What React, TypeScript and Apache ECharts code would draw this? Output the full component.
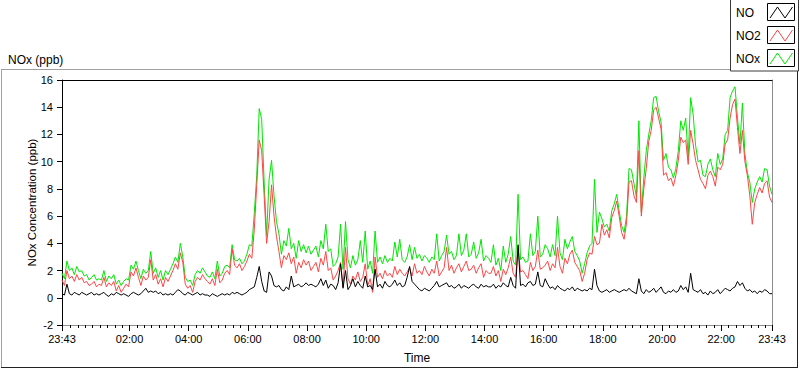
import React, { useEffect, useRef } from "react";
import * as echarts from "echarts";

// Time axis: minutes from midnight; the record starts at 23:43 of the previous day
const START_MIN = -17;
const END_MIN = 1423;
const STEP_MIN = 5;

// NO2 (ppb), one value every 5 minutes from 23:43
const NO2 = [
  1.3, 0.9, 2.0, 1.4, 1.6, 1.2, 1.7, 1.3, 1.5, 1.1,
  1.2, 0.9, 1.0, 1.2, 0.8, 1.0, 0.9, 1.5, 0.8, 1.1,
  0.9, 1.2, 0.5, 0.9, 0.4, 0.7, 1.0, 0.8, 1.9, 1.6,
  2.2, 1.5, 0.9, 1.6, 1.3, 1.5, 2.8, 1.3, 1.7, 1.0,
  1.4, 0.8, 1.5, 1.2, 1.6, 2.0, 2.5, 2.1, 3.3, 2.6,
  1.0, 0.7, 0.9, 0.4, 1.2, 1.5, 1.3, 1.7, 1.4,
  1.2, 1.0, 1.4, 0.9, 2.1, 1.1, 1.3, 1.8, 2.0, 1.7, 3.6,
  2.4, 2.2, 2.5, 2.0, 2.3, 2.7, 3.2, 2.9, 5.0, 8.3,
  11.6, 10.8, 7.5, 4.0, 5.6, 8.3, 6.0, 4.5, 3.4, 2.2,
  3.1, 2.8, 3.3, 2.5, 3.0, 1.8, 2.6, 2.2, 2.8, 2.4,
  2.7, 2.0, 2.3, 2.6, 1.9, 2.9, 2.4, 3.4, 2.0, 2.2,
  1.3, 1.6, 2.0, 2.6, 0.8, 3.7, 1.4,
  1.0, 1.6, 1.3, 1.9, 1.2, 1.5, 2.5, 0.9, 1.4, 0.4,
  3.0, 1.5, 1.8, 1.4, 2.0, 1.6, 1.8, 1.5, 2.3, 1.7,
  2.1, 1.8, 1.6, 1.9, 2.2, 1.6, 2.5, 1.8, 2.0, 1.7,
  2.3, 1.9, 1.6, 2.1, 1.8, 2.7, 1.6, 1.9, 2.2, 3.7,
  2.0, 2.4, 1.8, 2.2, 2.5, 1.9, 2.3, 2.7, 2.0, 2.1,
  2.4, 1.8, 2.2, 2.5, 1.5, 2.0, 1.8,
  1.8, 2.3, 1.6, 2.0, 1.2, 2.1, 1.7, 2.2, 3.0, 1.8,
  1.5, 3.7, 1.9, 2.0, 1.7, 1.4, 2.6, 2.0, 2.3, 3.5,
  2.1, 2.2, 2.4, 2.7, 2.0, 2.5, 2.2, 3.7, 2.3, 1.8,
  2.9, 2.5, 3.2, 3.5, 2.6, 2.3, 2.0, 1.2, 1.8, 2.8,
  3.3, 3.2, 4.5, 3.9, 4.0, 5.4, 4.6, 5.0, 4.4, 5.9,
  6.4, 7.1, 6.0, 4.8, 4.3, 5.5, 8.5, 8.6,
  7.5, 7.0, 10.8, 6.0, 8.0, 9.5, 11.5, 12.3, 13.8, 14.0,
  13.2, 12.4, 9.0, 9.2, 8.6, 8.8, 8.2, 9.0, 10.1, 11.8,
  11.4, 11.6, 9.8, 12.3, 11.3, 10.1, 9.4, 8.7, 8.4, 8.0,
  9.0, 9.3, 8.9, 8.2, 9.6, 9.4, 9.8, 11.3, 11.6, 13.2,
  14.2, 14.6, 12.5, 10.6, 12.3, 10.0, 9.0, 7.5, 5.4, 7.0,
  7.6, 8.1, 7.7, 8.4, 8.6, 7.4, 7.0,
];

// NOx (ppb)
const NOX = [
  1.8, 1.4, 2.7, 2.0, 2.2, 1.7, 2.3, 1.9, 2.0, 1.6,
  1.7, 1.3, 1.5, 1.7, 1.3, 1.4, 1.3, 2.0, 1.2, 1.6,
  1.4, 1.7, 1.0, 1.3, 0.9, 1.2, 1.4, 1.3, 2.4, 2.1,
  2.7, 2.0, 1.4, 2.1, 1.8, 2.0, 3.4, 1.8, 2.2, 1.5,
  2.0, 1.3, 2.0, 1.7, 2.1, 2.5, 3.0, 2.6, 4.0, 3.0,
  1.5, 1.2, 1.3, 0.9, 1.7, 2.0, 1.8, 2.2, 1.9,
  1.6, 1.5, 1.9, 1.4, 2.7, 1.6, 1.8, 2.3, 2.4, 2.2, 3.9,
  2.8, 2.7, 2.9, 2.5, 2.7, 3.2, 3.9, 3.8, 6.2, 9.0,
  13.9, 13.1, 8.5, 4.6, 8.7, 10.1, 7.5, 5.6, 4.7, 3.2,
  4.2, 3.8, 5.1, 3.6, 4.0, 2.9, 4.2, 3.4, 3.9, 3.3,
  3.8, 3.2, 3.5, 3.8, 3.0, 4.2, 3.6, 5.4, 3.4, 3.6,
  2.3, 2.5, 3.0, 5.4, 2.1, 5.6, 2.8,
  2.2, 3.1, 2.4, 2.8, 4.2, 2.6, 4.9, 2.1, 2.7, 1.8,
  4.9, 2.6, 3.0, 2.5, 3.1, 2.6, 2.9, 2.7, 4.1, 3.0,
  4.3, 2.8, 2.6, 3.0, 3.9, 2.8, 3.7, 2.9, 3.2, 2.7,
  3.1, 2.9, 2.6, 3.0, 2.8, 4.7, 2.7, 3.1, 3.4, 4.6,
  3.2, 3.4, 2.8, 3.1, 4.7, 3.1, 3.5, 4.7, 3.0, 3.2,
  4.1, 2.9, 3.3, 4.3, 2.7, 3.1, 2.9,
  2.6, 3.9, 2.4, 2.9, 2.0, 3.8, 2.6, 3.2, 4.5, 2.7,
  2.4, 7.6, 2.8, 3.0, 2.6, 2.7, 4.7, 3.1, 3.4, 6.0,
  3.0, 3.2, 3.9, 3.6, 3.0, 3.9, 3.1, 6.0, 3.3, 2.8,
  4.3, 3.6, 4.1, 4.5, 3.4, 3.1, 2.7, 1.8, 2.5, 3.3,
  3.8, 4.0, 8.7, 4.8, 6.3, 5.8, 5.2, 5.4, 4.9, 6.4,
  6.9, 7.6, 6.4, 5.3, 4.8, 6.0, 9.5, 9.4,
  8.4, 7.4, 13.0, 6.3, 8.8, 10.8, 12.0, 13.0, 14.7, 14.8,
  13.7, 12.9, 10.1, 10.6, 9.6, 9.4, 8.8, 9.5, 10.8, 13.0,
  12.3, 13.2, 10.3, 14.7, 13.5, 11.2, 10.0, 10.1, 9.0, 8.9,
  9.8, 10.2, 9.4, 8.9, 10.6, 9.8, 10.2, 12.0, 12.3, 14.7,
  15.2, 15.5, 13.2, 11.3, 14.3, 10.6, 9.2, 8.5, 7.0, 8.0,
  8.5, 8.9, 8.5, 9.5, 9.4, 8.2, 7.6,
];

// NO (ppb)
const NO = [
  0.3, 0.2, 1.0, 0.3, 0.2, 0.4, 0.3, 0.2, 0.4, 0.3,
  0.2, 0.3, 0.4, 0.2, 0.3, 0.2, 0.3, 0.4, 0.2, 0.1,
  0.3, 0.2, 0.4, 0.3, 0.2, 0.3, 0.2, 0.1, 0.3, 0.4,
  0.3, 0.2, 0.3, 0.5, 0.7, 0.4, 0.5, 0.4, 0.5, 0.3,
  0.4, 0.2, 0.3, 0.2, 0.3, 0.2, 0.4, 0.6, 0.5, 0.3,
  0.2, 0.4, 0.3, 0.2, 0.3, 0.4, 0.2, 0.3, 0.2,
  0.2, 0.1, 0.3, 0.2, 0.1, 0.2, 0.3, 0.2, 0.3, 0.2, 0.4,
  0.3, 0.4, 0.3, 0.2, 0.3, 0.4, 0.6, 0.7, 0.8, 1.5,
  2.3, 1.2, 0.5, 0.4, 1.9, 1.6, 0.9, 0.8, 0.9, 0.6,
  0.5, 0.8, 0.6, 1.6, 0.8, 0.9, 1.0, 0.8, 0.9, 1.1,
  0.9, 1.0, 0.9, 0.8, 1.0, 1.4, 0.9, 1.3, 0.7, 1.0,
  0.9, 0.6, 1.1, 2.5, 0.7, 2.0, 0.6,
  0.9, 1.4, 0.8, 1.2, 0.9, 0.7, 1.6, 0.8, 0.9, 0.6,
  2.1, 0.8, 1.0, 0.7, 1.2, 0.9, 0.8, 1.0, 1.3, 0.9,
  1.1, 0.8, 0.9, 1.5, 2.3, 1.2, 1.0, 0.8, 0.6, 0.5,
  0.7, 0.6, 0.5, 0.7, 0.9, 1.2, 0.8, 0.9, 1.0, 1.1,
  0.8, 0.9, 0.7, 0.8, 1.0, 0.7, 0.9, 0.8, 0.7, 0.9,
  1.0, 0.8, 0.7, 1.0, 0.8, 0.9, 0.8,
  0.8, 1.0, 0.7, 0.9, 0.8, 1.1, 0.9, 0.8, 1.5, 0.9,
  0.7, 3.9, 0.9, 1.0, 0.8, 1.1, 1.2, 0.9, 1.0, 1.9,
  0.9, 0.8, 1.4, 1.0, 0.7, 0.8, 0.6, 0.9, 0.7, 0.6,
  0.5, 0.7, 0.6, 0.8, 0.5, 0.7, 0.6, 0.5, 0.6, 0.5,
  0.7, 0.6, 2.1, 0.9, 0.5, 0.4, 0.5, 0.6, 0.4, 0.5,
  0.6, 0.5, 0.4, 0.5, 0.6, 0.5, 0.7, 0.5,
  0.4, 0.3, 1.4, 0.5, 0.3, 0.6, 0.4, 0.5, 0.7, 0.4,
  0.6, 0.8, 0.4, 0.3, 0.5, 0.4, 0.6, 0.4, 0.5, 0.9,
  0.6, 0.8, 0.4, 1.8, 0.6, 0.5, 0.4, 0.6, 0.3, 0.4,
  0.2, 0.5, 0.3, 0.4, 0.6, 0.3, 0.5, 0.7, 0.6, 0.5,
  0.7, 0.8, 1.2, 0.9, 1.1, 0.7, 0.5, 0.6, 0.4, 0.5,
  0.3, 0.5, 0.4, 0.6, 0.5, 0.3, 0.3,
];

// Labelled (major) ticks on the time axis, minutes from midnight
const LABEL_TICKS = [-17, 120, 240, 360, 480, 600, 720, 840, 960, 1080, 1200, 1320, 1423];
const MINOR_STEP = 15;

const Y_MIN = -2;
const Y_MAX = 16;
const Y_STEP = 2;

const SERIES_NAMES = ["NO", "NO2", "NOx"];
const COLORS = { NO: "#000000", NO2: "#ff4545", NOx: "#00e600" };

const FONT = "Liberation Sans";

function pad(n: number) {
  return n < 10 ? "0" + n : "" + n;
}
function fmtTime(v: number) {
  let m = Math.round(v);
  if (m < 0) m += 1440;
  const h = Math.floor(m / 60) % 24;
  return pad(h) + ":" + pad(m % 60);
}

function toPairs(arr: number[]) {
  return arr.map((v, i) => [START_MIN + STEP_MIN * i, v]);
}

export default function App() {
  const ref = useRef<HTMLDivElement>(null);

  useEffect(() => {
    if (!ref.current) return;
    const chart = echarts.init(ref.current, null, { renderer: "svg" });

    const minorTicks: number[] = [START_MIN];
    for (let m = 0; m < END_MIN; m += MINOR_STEP) minorTicks.push(m);
    minorTicks.push(END_MIN);

    const textStyle = { fontFamily: FONT, color: "#000" };

    // legend drawing (decoration)
    const legendX = 730.5;
    const rowY = [13, 36, 59];
    const legendItems: any[] = [
      {
        type: "rect",
        shape: { x: legendX, y: -1, width: 68, height: 72 },
        style: { fill: "#fff", stroke: "#3a3a3a", lineWidth: 1 },
        z: 10,
      },
    ];
    SERIES_NAMES.forEach((name, k) => {
      const cy = rowY[k];
      legendItems.push({
        type: "text",
        style: {
          text: name,
          x: 736,
          y: cy,
          fill: "#000",
          font: `12px "${FONT}"`,
          textVerticalAlign: "middle",
        },
        z: 11,
      });
      legendItems.push({
        type: "rect",
        shape: { x: 767.5, y: cy - 9.5, width: 27, height: 17 },
        style: { fill: "#fff", stroke: "#000", lineWidth: 1 },
        z: 11,
      });
      legendItems.push({
        type: "polyline",
        shape: {
          points: [
            [770, cy + 5],
            [777.5, cy - 6],
            [785, cy + 5],
            [792.5, cy - 6],
          ],
        },
        style: { stroke: (COLORS as any)[name], lineWidth: 1, fill: null },
        z: 12,
      });
    });

    const option: any = {
      animation: false,
      backgroundColor: "#fff",
      title: {
        text: "NOx (ppb)",
        left: 3,
        top: 49,
        textStyle: { fontFamily: FONT, fontSize: 12, fontWeight: "normal", color: "#000" },
      },
      grid: { left: 62, right: 28, top: 80, bottom: 39, containLabel: false },
      xAxis: [
        {
          type: "value",
          position: "bottom",
          min: START_MIN,
          max: END_MIN,
          axisLine: { show: true, onZero: false, lineStyle: { color: "#8c8c8c", width: 1 } },
          axisTick: { show: true, customValues: minorTicks, length: 3, lineStyle: { color: "#000" } },
          axisLabel: {
            show: true,
            customValues: LABEL_TICKS,
            formatter: (v: number) => fmtTime(v),
            margin: 8,
            fontSize: 11,
            showMinLabel: true,
            showMaxLabel: true,
            hideOverlap: false,
            ...textStyle,
          },
          splitLine: { show: false },
          name: "Time",
          nameLocation: "middle",
          nameGap: 27,
          nameMoveOverlap: false,
          nameTextStyle: { fontSize: 12, ...textStyle },
        },
        {
          type: "value",
          position: "bottom",
          min: START_MIN,
          max: END_MIN,
          axisLine: { show: false, onZero: false },
          axisTick: { show: true, customValues: LABEL_TICKS, length: 6, lineStyle: { color: "#000" } },
          axisLabel: { show: false },
          splitLine: { show: false },
        },
        {
          type: "value",
          position: "top",
          min: START_MIN,
          max: END_MIN,
          axisLine: { show: true, onZero: false, lineStyle: { color: "#000", width: 1 } },
          axisTick: { show: false },
          axisLabel: { show: false },
          splitLine: { show: false },
        },
      ],
      yAxis: [
        {
          type: "value",
          position: "left",
          min: Y_MIN,
          max: Y_MAX,
          interval: Y_STEP,
          axisLine: { show: true, onZero: false, lineStyle: { color: "#000", width: 1 } },
          axisTick: { show: true, length: 5, lineStyle: { color: "#000" } },
          axisLabel: { margin: 9, fontSize: 11, ...textStyle },
          splitLine: { show: false },
          name: "NOx Concentration (ppb)",
          nameLocation: "middle",
          nameRotate: 90,
          nameGap: 24,
          nameMoveOverlap: false,
          nameTextStyle: { fontSize: 11.5, ...textStyle },
        },
        {
          type: "value",
          position: "right",
          min: Y_MIN,
          max: Y_MAX,
          interval: Y_STEP,
          axisLine: { show: true, onZero: false, lineStyle: { color: "#8c8c8c", width: 1 } },
          axisTick: { show: false },
          axisLabel: { show: false },
          splitLine: { show: false },
        },
      ],
      series: [
        { name: "NOx", data: NOX },
        { name: "NO2", data: NO2 },
        { name: "NO", data: NO },
      ].map((s) => ({
        name: s.name,
        type: "line",
        xAxisIndex: 0,
        yAxisIndex: 0,
        data: toPairs(s.data),
        showSymbol: false,
        symbol: "none",
        lineStyle: { color: (COLORS as any)[s.name], width: 1 },
        itemStyle: { color: (COLORS as any)[s.name] },
      })),
      graphic: [
        {
          type: "line",
          shape: { x1: 1, y1: 69.5, x2: 731, y2: 69.5 },
          style: { stroke: "#a0a0a0", lineWidth: 1 },
        },
        {
          type: "line",
          shape: { x1: 1.5, y1: 69.5, x2: 1.5, y2: 367 },
          style: { stroke: "#a0a0a0", lineWidth: 1 },
        },
        {
          type: "line",
          shape: { x1: 1, y1: 367.5, x2: 798, y2: 367.5 },
          style: { stroke: "#222", lineWidth: 1 },
        },
        {
          type: "line",
          shape: { x1: 797.5, y1: 70, x2: 797.5, y2: 368 },
          style: { stroke: "#222", lineWidth: 1 },
        },
        ...legendItems,
      ],
    };

    chart.setOption(option);
    return () => chart.dispose();
  }, []);

  return (
    <div
      ref={ref}
      style={{ width: 800, height: 369, position: "absolute", left: 0, top: 0, background: "#fff" }}
    />
  );
}
